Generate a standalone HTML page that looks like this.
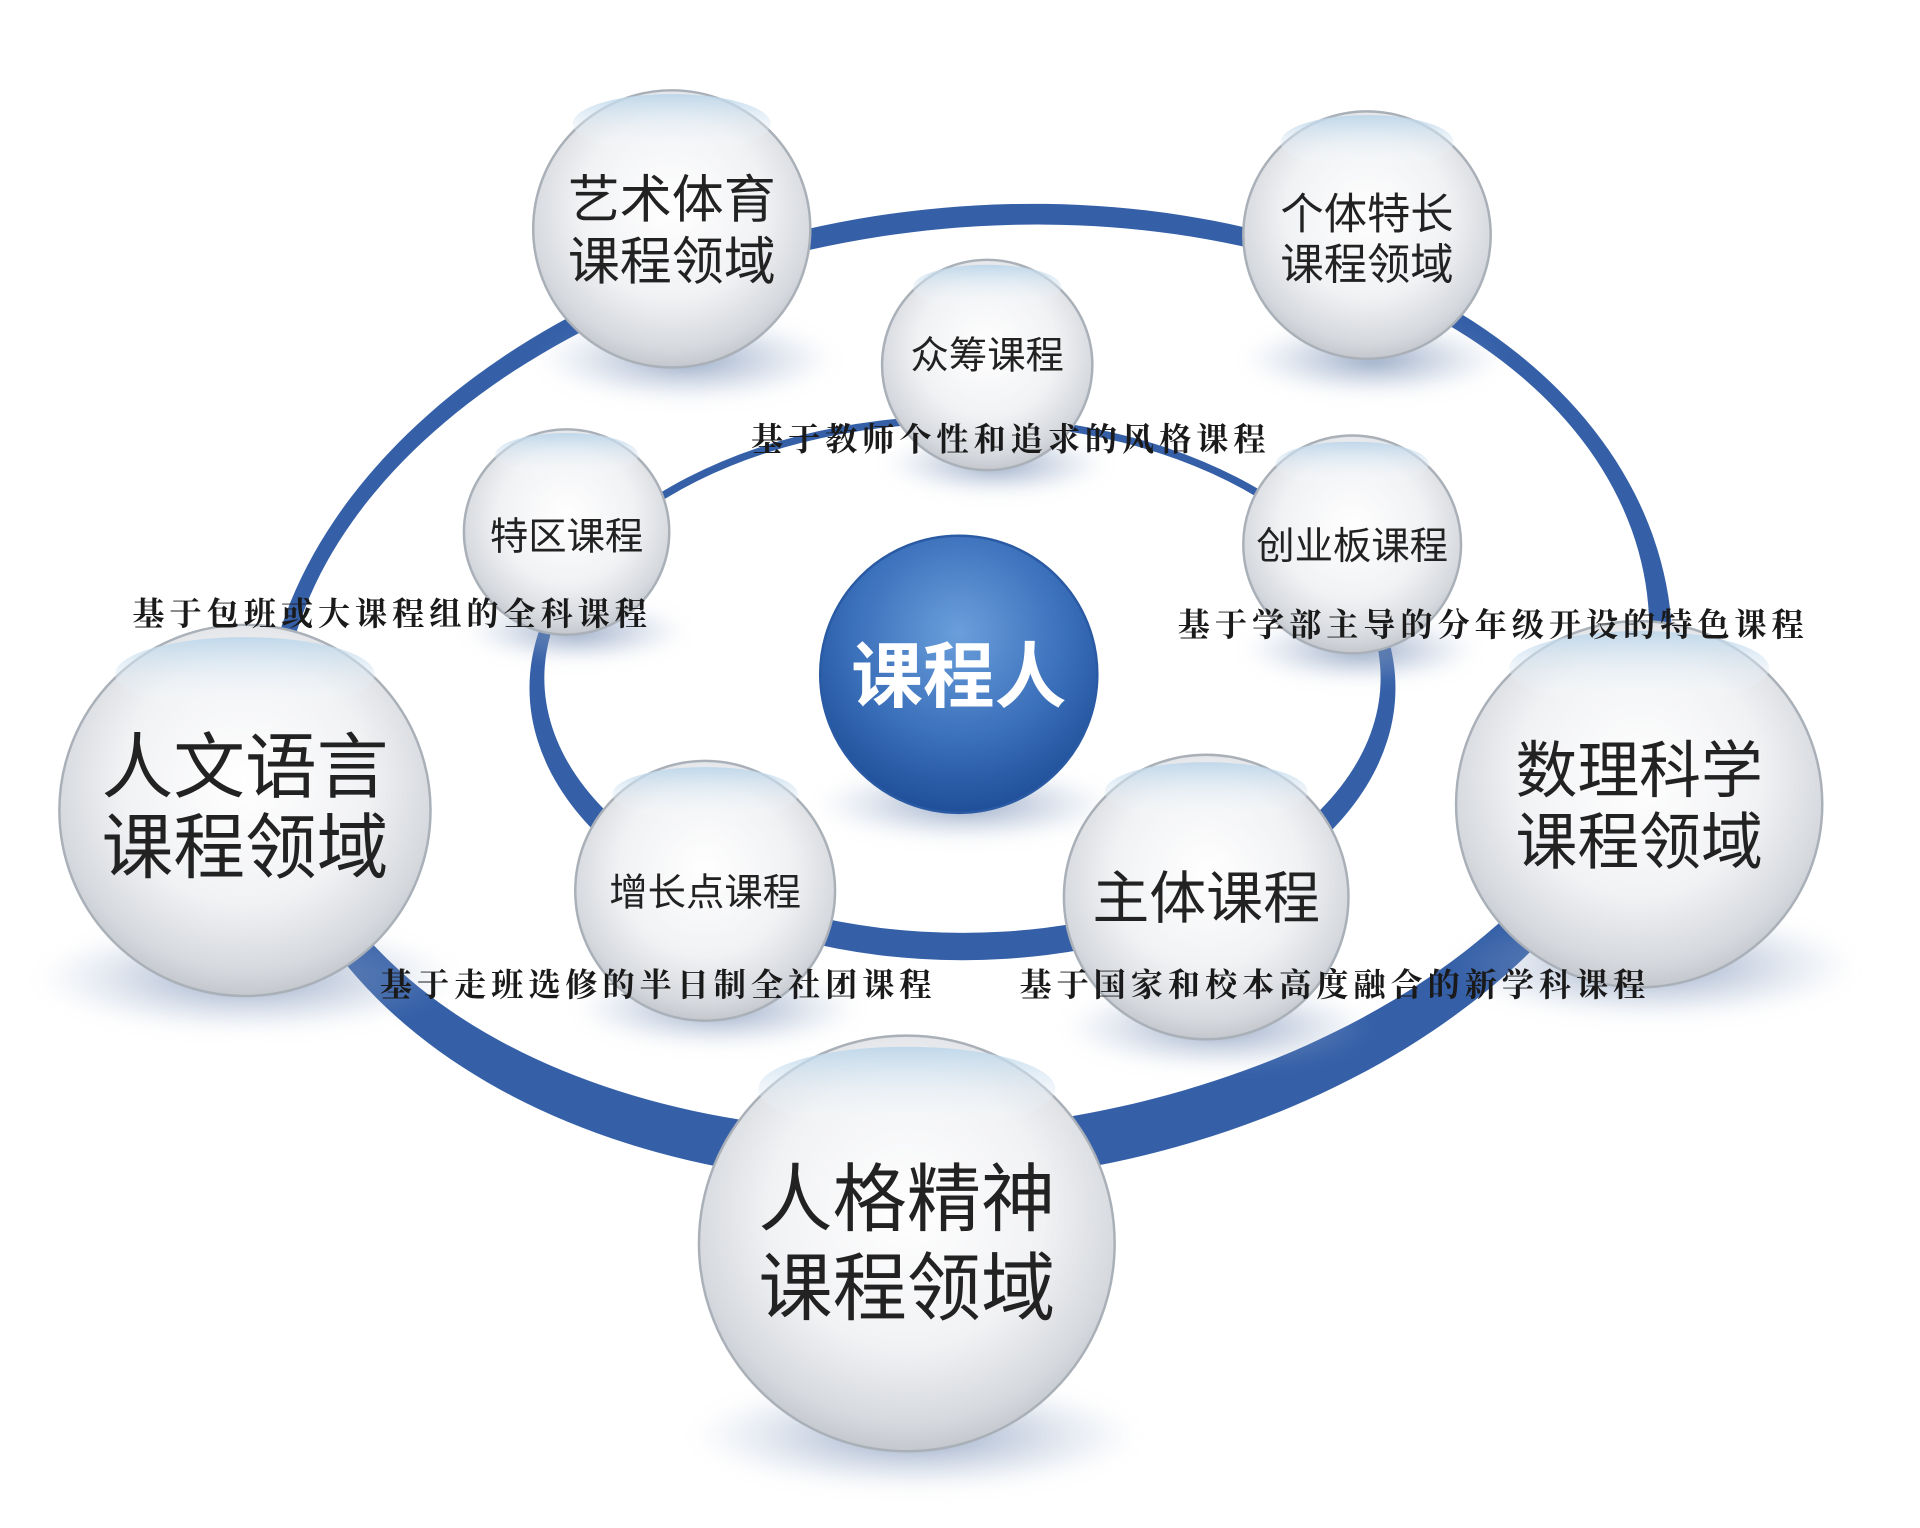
<!DOCTYPE html>
<html><head><meta charset="utf-8"><style>
html,body{margin:0;padding:0;background:#fff;}
svg{display:block;}
text{font-family:"Liberation Sans","Noto Sans CJK SC",sans-serif;}
.lbl{font-family:"Liberation Serif","Noto Serif CJK SC",serif;font-weight:bold;fill:#1a1a1a;font-size:26px;letter-spacing:4px;text-anchor:middle;}
.t{fill:#222;text-anchor:middle;}
</style></head><body>
<svg width="1920" height="1528" viewBox="0 0 1552 1235" preserveAspectRatio="none" xmlns="http://www.w3.org/2000/svg">
<defs>
<radialGradient id="sph" cx="50%" cy="42%" r="60%">
<stop offset="0" stop-color="#ffffff"/><stop offset="0.55" stop-color="#f1f2f4"/><stop offset="0.85" stop-color="#d6d9de"/><stop offset="1" stop-color="#bfc3c9"/>
</radialGradient>
<linearGradient id="hl" x1="0" y1="0" x2="0" y2="1">
<stop offset="0" stop-color="#bcd6ea" stop-opacity="0.9"/><stop offset="1" stop-color="#ffffff" stop-opacity="0"/>
</linearGradient>
<radialGradient id="blue" cx="50%" cy="35%" r="65%">
<stop offset="0" stop-color="#6a9fdc"/><stop offset="0.6" stop-color="#3a6fba"/><stop offset="1" stop-color="#1f4f98"/>
</radialGradient>
<radialGradient id="sh" cx="50%" cy="50%" r="50%">
<stop offset="0" stop-color="#6f87ad" stop-opacity="0.75"/><stop offset="1" stop-color="#9fb2d0" stop-opacity="0"/>
</radialGradient>
<filter id="blur"><feGaussianBlur stdDeviation="6"/></filter>
</defs>

<!-- outer ring (variable thickness) -->
<g transform="rotate(-7 782 560)">
<path fill="#3560a8" fill-rule="evenodd" d="M210,561 a572,393 0 1,0 1144,0 a572,393 0 1,0 -1144,0 Z M227,548 a555,363 0 1,0 1110,0 a555,363 0 1,0 -1110,0 Z"/>
</g>
<!-- inner ring -->
<path fill="#3560a8" fill-rule="evenodd" d="M428,556 a350,220 0 1,0 700,0 a350,220 0 1,0 -700,0 Z M440,548 a338,206 0 1,0 676,0 a338,206 0 1,0 -676,0 Z"/>

<!-- shadows -->
<g filter="url(#blur)">
<ellipse cx="555" cy="290" rx="120" ry="35" fill="url(#sh)"/>
<ellipse cx="1110" cy="290" rx="105" ry="30" fill="url(#sh)"/>
<ellipse cx="805" cy="375" rx="90" ry="25" fill="url(#sh)"/>
<ellipse cx="465" cy="510" rx="90" ry="25" fill="url(#sh)"/>
<ellipse cx="1100" cy="525" rx="95" ry="27" fill="url(#sh)"/>
<ellipse cx="200" cy="790" rx="170" ry="45" fill="url(#sh)"/>
<ellipse cx="1335" cy="780" rx="165" ry="45" fill="url(#sh)"/>
<ellipse cx="580" cy="815" rx="115" ry="32" fill="url(#sh)"/>
<ellipse cx="985" cy="830" rx="125" ry="35" fill="url(#sh)"/>
<ellipse cx="740" cy="1160" rx="180" ry="45" fill="url(#sh)"/>
<ellipse cx="780" cy="650" rx="120" ry="30" fill="url(#sh)"/>
</g>

<!-- center -->
<circle cx="775" cy="545" r="112" fill="url(#blue)" stroke="#2a5aa3" stroke-width="2"/>
<text x="775" y="567" text-anchor="middle" font-size="58" font-weight="bold" fill="#fff">课程人</text>

<!-- spheres -->
<g stroke="#aab0b8" stroke-width="2" fill="url(#sph)">
<circle cx="543" cy="185" r="112"/>
<circle cx="1105" cy="190" r="100"/>
<circle cx="798" cy="295" r="85"/>
<circle cx="458" cy="430" r="83"/>
<circle cx="1093" cy="440" r="88"/>
<circle cx="198" cy="655" r="150"/>
<circle cx="1325" cy="650" r="148"/>
<circle cx="570" cy="720" r="105"/>
<circle cx="975" cy="725" r="115"/>
<circle cx="733" cy="1005" r="168"/>
</g>
<g fill="url(#hl)">
<ellipse cx="543" cy="100" rx="80" ry="24"/>
<ellipse cx="1105" cy="115" rx="70" ry="22"/>
<ellipse cx="798" cy="232" rx="60" ry="18"/>
<ellipse cx="458" cy="368" rx="58" ry="18"/>
<ellipse cx="1093" cy="375" rx="62" ry="18"/>
<ellipse cx="198" cy="545" rx="105" ry="30"/>
<ellipse cx="1325" cy="540" rx="105" ry="30"/>
<ellipse cx="570" cy="642" rx="75" ry="22"/>
<ellipse cx="975" cy="640" rx="82" ry="24"/>
<ellipse cx="733" cy="880" rx="120" ry="34"/>
</g>

<!-- sphere texts -->
<text class="t" x="543" y="176" font-size="42">艺术体育</text>
<text class="t" x="543" y="226" font-size="42">课程领域</text>
<text class="t" x="1105" y="185" font-size="35">个体特长</text>
<text class="t" x="1105" y="226" font-size="35">课程领域</text>
<text class="t" x="798" y="298" font-size="31">众筹课程</text>
<text class="t" x="458" y="444" font-size="31">特区课程</text>
<text class="t" x="1093" y="452" font-size="31">创业板课程</text>
<text class="t" x="198" y="640" font-size="58">人文语言</text>
<text class="t" x="198" y="705" font-size="58">课程领域</text>
<text class="t" x="1325" y="640" font-size="50">数理科学</text>
<text class="t" x="1325" y="698" font-size="50">课程领域</text>
<text class="t" x="570" y="732" font-size="31">增长点课程</text>
<text class="t" x="975" y="742" font-size="46">主体课程</text>
<text class="t" x="733" y="990" font-size="60">人格精神</text>
<text class="t" x="733" y="1062" font-size="60">课程领域</text>

<!-- labels -->
<text class="lbl" x="817" y="364">基于教师个性和追求的风格课程</text>
<text class="lbl" x="317" y="505">基于包班或大课程组的全科课程</text>
<text class="lbl" x="1207" y="514">基于学部主导的分年级开设的特色课程</text>
<text class="lbl" x="532" y="805">基于走班选修的半日制全社团课程</text>
<text class="lbl" x="1079" y="805">基于国家和校本高度融合的新学科课程</text>
</svg>
</body></html>
